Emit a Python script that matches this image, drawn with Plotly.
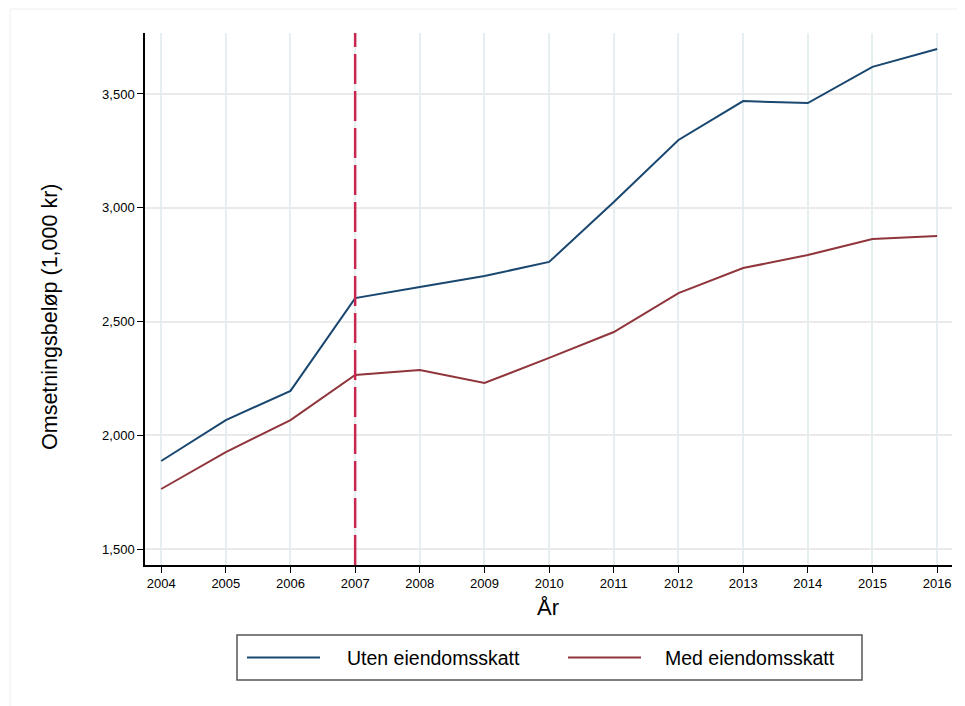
import plotly.graph_objects as go

years = [2004, 2005, 2006, 2007, 2008, 2009, 2010, 2011, 2012, 2013, 2014, 2015, 2016]
uten = [1887, 2067, 2195, 2603, 2652, 2700, 2762, 3025, 3298, 3469, 3460, 3619, 3698]
med = [1764, 1926, 2067, 2265, 2287, 2230, 2340, 2454, 2625, 2735, 2792, 2863, 2876]
series_names = ["Uten eiendomsskatt", "Med eiendomsskatt"]
y_ticks = [1500, 2000, 2500, 3000, 3500]
y_tick_labels = ["1,500", "2,000", "2,500", "3,000", "3,500"]
event_year = 2007

BLUE = "#1a476f"
RED = "#90353b"
VLINE = "#c8284f"
FONT = "Liberation Sans, Arial, Helvetica, sans-serif"

# page offset (body margin) of 8px
OFF = 8
PL, PR, PT, PB = 145, 952, 33, 565   # plot area in window pixels
PW, PH = PR - PL, PB - PT

fig = go.Figure()
fig.add_trace(go.Scatter(x=years, y=uten, mode="lines", name=series_names[0],
                         line=dict(color=BLUE, width=2), showlegend=False))
fig.add_trace(go.Scatter(x=years, y=med, mode="lines", name=series_names[1],
                         line=dict(color=RED, width=2), showlegend=False))

fig.add_vline(x=event_year, line=dict(color=VLINE, width=2.5, dash="30px,7px"), layer="above")

lx = lambda px: (px - PL) / PW
ly = lambda py: (PB - py) / PH

shapes = []
shapes.append(dict(type="rect", xref="paper", yref="paper",
                   x0=lx(10), x1=lx(990), y0=ly(730), y1=ly(9),
                   line=dict(color="#eeeeee", width=1), layer="below"))
shapes.append(dict(type="rect", xref="paper", yref="paper",
                   x0=lx(237), x1=lx(862), y0=ly(680), y1=ly(635),
                   line=dict(color="#555555", width=1.5)))
shapes.append(dict(type="line", xref="paper", yref="paper",
                   x0=lx(247), x1=lx(320), y0=ly(657.5), y1=ly(657.5),
                   line=dict(color=BLUE, width=2)))
shapes.append(dict(type="line", xref="paper", yref="paper",
                   x0=lx(568), x1=lx(641), y0=ly(657.5), y1=ly(657.5),
                   line=dict(color=RED, width=2)))

annotations = [
    dict(text=series_names[0], xref="paper", yref="paper", x=lx(345), y=ly(657.5),
         xanchor="left", yanchor="middle", showarrow=False,
         font=dict(size=19.5, color="#000000", family=FONT)),
    dict(text=series_names[1], xref="paper", yref="paper", x=lx(663), y=ly(657.5),
         xanchor="left", yanchor="middle", showarrow=False,
         font=dict(size=19.5, color="#000000", family=FONT)),
    dict(text="Omsetningsbeløp (1,000 kr)", xref="paper", yref="paper",
         x=lx(50), y=ly(317), textangle=-90, xanchor="center", yanchor="middle",
         showarrow=False, font=dict(size=21.5, color="#000000", family=FONT)),
    dict(text="År", xref="paper", yref="paper", x=lx(548), y=ly(607),
         xanchor="center", yanchor="middle", showarrow=False,
         font=dict(size=22, color="#000000", family=FONT)),
]

fig.update_layout(
    width=965 - OFF, height=706 - OFF,
    margin=dict(l=PL - OFF, r=965 - PR, t=PT - OFF, b=706 - PB),
    paper_bgcolor="white", plot_bgcolor="white",
    font=dict(family=FONT, size=13, color="#000000"),
    shapes=list(fig.layout.shapes) + shapes,
    annotations=annotations,
    showlegend=False,
)
fig.update_xaxes(range=[2003.75, 2016.23], tickmode="array", tickvals=years,
                 ticktext=[str(y) for y in years],
                 showgrid=True, gridcolor="#e5eef0", gridwidth=1.5,
                 showline=True, linecolor="#000000", linewidth=1.5,
                 ticks="outside", ticklen=6, tickcolor="#000000", tickwidth=1.2,
                 tickfont=dict(size=13), zeroline=False)
fig.update_yaxes(range=[1430, 3768], tickmode="array", tickvals=y_ticks,
                 ticktext=y_tick_labels,
                 showgrid=True, gridcolor="#eaeaea", gridwidth=1.5,
                 showline=True, linecolor="#000000", linewidth=1.5,
                 ticks="outside", ticklen=6, tickcolor="#000000", tickwidth=1.2,
                 tickfont=dict(size=13), zeroline=False)

fig.write_html("out.html")
